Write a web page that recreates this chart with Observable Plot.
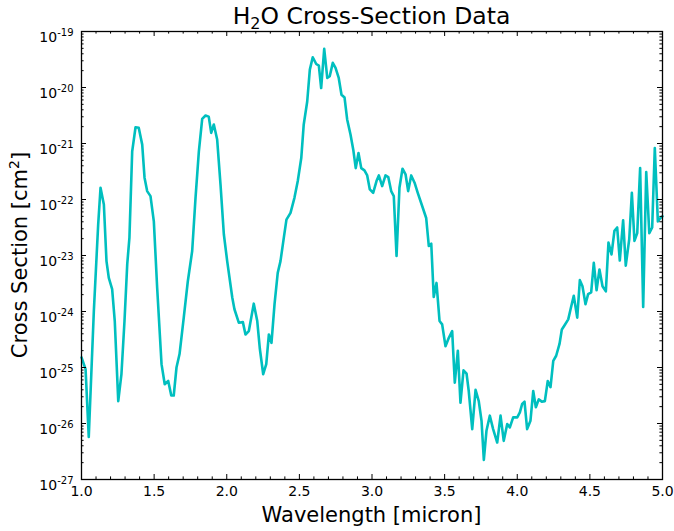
<!DOCTYPE html>
<html><head><meta charset="utf-8">
<script src="https://cdn.jsdelivr.net/npm/d3@7"></script>
<script src="https://cdn.jsdelivr.net/npm/@observablehq/plot@0.6"></script>
<style>body{margin:0;background:#fff} svg{display:block}</style>
</head><body><div id="chart"></div>
<script>
// Wavelength [micron]
const wavelength = [
  1.000, 1.028, 1.050, 1.085, 1.115, 1.131, 1.154, 1.172, 1.188, 1.211,
  1.229, 1.253, 1.275, 1.296, 1.315, 1.330, 1.349, 1.372, 1.394, 1.418,
  1.434, 1.452, 1.475, 1.498, 1.521, 1.551, 1.573, 1.597, 1.618, 1.635,
  1.654, 1.675, 1.704, 1.732, 1.762, 1.785, 1.808, 1.831, 1.854, 1.876,
  1.893, 1.911, 1.934, 1.957, 1.980, 2.003, 2.038, 2.053, 2.083, 2.111,
  2.129, 2.152, 2.186, 2.210, 2.228, 2.251, 2.272, 2.290, 2.308, 2.329,
  2.351, 2.370, 2.393, 2.411, 2.439, 2.466, 2.489, 2.513, 2.530, 2.554,
  2.572, 2.592, 2.616, 2.634, 2.650, 2.671, 2.692, 2.709, 2.730, 2.749,
  2.771, 2.790, 2.811, 2.829, 2.852, 2.871, 2.888, 2.907, 2.926, 2.948,
  2.967, 2.985, 3.008, 3.031, 3.047, 3.070, 3.093, 3.112, 3.132, 3.150,
  3.169, 3.189, 3.210, 3.231, 3.249, 3.270, 3.293, 3.315, 3.346, 3.373,
  3.391, 3.408, 3.425, 3.444, 3.465, 3.483, 3.506, 3.529, 3.552, 3.570,
  3.591, 3.609, 3.630, 3.651, 3.666, 3.690, 3.713, 3.735, 3.754, 3.770,
  3.788, 3.811, 3.834, 3.862, 3.885, 3.907, 3.931, 3.949, 3.972, 4.000,
  4.018, 4.034, 4.050, 4.068, 4.091, 4.110, 4.128, 4.148, 4.169, 4.190,
  4.210, 4.229, 4.248, 4.268, 4.291, 4.307, 4.327, 4.351, 4.367, 4.389,
  4.413, 4.431, 4.449, 4.470, 4.488, 4.509, 4.527, 4.546, 4.566, 4.587,
  4.610, 4.628, 4.649, 4.669, 4.688, 4.706, 4.729, 4.747, 4.771, 4.789,
  4.807, 4.826, 4.846, 4.867, 4.888, 4.909, 4.929, 4.947, 4.968, 4.986,
  5.000
];
// log10 of cross section [cm^2]
const logCrossSection = [
  -24.82, -25.03, -26.24, -23.99, -22.44, -21.79, -22.09, -23.10, -23.40, -23.60,
  -24.17, -25.60, -25.12, -24.17, -23.15, -22.68, -21.14, -20.71, -20.72, -21.02,
  -21.61, -21.85, -21.94, -22.39, -23.58, -24.94, -25.30, -25.24, -25.50, -25.50,
  -25.00, -24.76, -24.11, -23.46, -22.92, -21.97, -21.14, -20.56, -20.50, -20.52,
  -20.81, -20.66, -20.93, -21.73, -22.62, -23.10, -23.75, -23.96, -24.20, -24.19,
  -24.41, -24.35, -23.86, -24.17, -24.67, -25.12, -24.94, -24.41, -24.56, -23.87,
  -23.31, -23.10, -22.68, -22.36, -22.24, -21.97, -21.67, -21.26, -20.66, -20.25,
  -19.68, -19.46, -19.58, -19.61, -20.01, -19.31, -19.83, -19.80, -19.56, -19.65,
  -19.83, -20.13, -20.18, -20.57, -20.84, -21.11, -21.44, -21.17, -21.44, -21.48,
  -21.57, -21.82, -21.88, -21.67, -21.57, -21.76, -21.57, -21.60, -21.85, -21.94,
  -23.01, -21.79, -21.45, -21.55, -21.85, -21.57, -21.70, -21.88, -22.12, -22.33,
  -22.83, -22.79, -23.74, -23.49, -24.17, -24.23, -24.62, -24.47, -24.35, -25.27,
  -24.70, -25.63, -25.05, -25.11, -25.42, -26.10, -25.40, -25.60, -25.95, -26.65,
  -26.13, -25.86, -26.10, -26.34, -25.86, -26.31, -26.01, -26.07, -25.89, -25.89,
  -25.80, -25.65, -25.61, -26.10, -25.95, -25.42, -25.71, -25.57, -25.61, -25.60,
  -25.24, -25.35, -24.88, -24.79, -24.58, -24.32, -24.24, -24.14, -23.96, -23.72,
  -24.11, -23.44, -23.55, -23.87, -23.69, -23.66, -23.13, -23.62, -23.25, -23.55,
  -23.64, -22.77, -22.98, -22.56, -22.50, -23.09, -22.37, -23.18, -22.71, -21.88,
  -22.74, -22.60, -21.44, -23.92, -21.51, -22.60, -22.50, -21.08, -22.39, -22.33,
  -22.30
];
const xTicks = [1.0, 1.5, 2.0, 2.5, 3.0, 3.5, 4.0, 4.5, 5.0];
const xMinorTicks = [1.1,1.2,1.3,1.4,1.6,1.7,1.8,1.9,2.1,2.2,2.3,2.4,2.6,2.7,2.8,2.9,3.1,3.2,3.3,3.4,3.6,3.7,3.8,3.9,4.1,4.2,4.3,4.4,4.6,4.7,4.8,4.9];
const yExponents = [-27, -26, -25, -24, -23, -22, -21, -20, -19];
const yMinorMultipliers = [2, 3, 4, 5, 6, 7, 8, 9];
const titleMain = "H";
const titleSub = "2";
const titleRest = "O Cross-Section Data";
const xLabel = "Wavelength [micron]";
const yLabelMain = "Cross Section [cm";
const yLabelSup = "2";
const yLabelEnd = "]";

const data = wavelength.map((w, i) => ({w, s: Math.pow(10, logCrossSection[i])}));
const yMajor = yExponents.map(e => Number(`1e${e}`));
const yMinor = [];
for (const e of yExponents.slice(0, -1)) for (const m of yMinorMultipliers) yMinor.push(Number(`${m}e${e}`));

const W = 674, H = 531, mL = 81, mR = 12, mT = 31, mB = 52;
const pw = W - mL - mR, ph = H - mT - mB;
const majorLen = 5, minorLen = 2.6;
const tickStyle = {stroke: "black", strokeWidth: 1};

const chart = Plot.plot({
  width: W, height: H,
  marginLeft: mL, marginRight: mR, marginTop: mT, marginBottom: mB,
  style: {fontFamily: "DejaVu Sans", fontSize: "14px", background: "white", color: "black", overflow: "visible"},
  x: {domain: [1, 5], ticks: xTicks, tickFormat: d => d.toFixed(1), tickSize: 0, tickPadding: 7, label: null},
  y: {type: "log", domain: [1e-27, 1e-19], ticks: yMajor, tickFormat: d => String(Math.round(Math.log10(d))), tickSize: 0, tickPadding: 8, label: null},
  marks: [
    Plot.line(data, {x: "w", y: "s", stroke: "#00BFBF", strokeWidth: 2.6, strokeLinejoin: "round"}),
    Plot.tickX(xTicks, {x: d => d, insetTop: ph - majorLen, ...tickStyle}),
    Plot.tickX(xTicks, {x: d => d, insetBottom: ph - majorLen, ...tickStyle}),
    Plot.tickX(xMinorTicks, {x: d => d, insetTop: ph - minorLen, ...tickStyle}),
    Plot.tickX(xMinorTicks, {x: d => d, insetBottom: ph - minorLen, ...tickStyle}),
    Plot.tickY(yMajor, {y: d => d, insetRight: pw - majorLen, ...tickStyle}),
    Plot.tickY(yMajor, {y: d => d, insetLeft: pw - majorLen, ...tickStyle}),
    Plot.tickY(yMinor, {y: d => d, insetRight: pw - minorLen, ...tickStyle}),
    Plot.tickY(yMinor, {y: d => d, insetLeft: pw - minorLen, ...tickStyle}),
    Plot.frame({stroke: "black", strokeWidth: 1.3})
  ]
});

const svg = d3.select(chart);
svg.selectAll('g[aria-label$="tick label"]').attr("font-size", "14px").attr("font-family", "DejaVu Sans");
// y tick labels as powers of ten with superscript exponents
svg.selectAll('g[aria-label="y-axis tick label"] text').each(function () {
  const t = d3.select(this);
  const e = t.text();
  t.text("10").attr("dy", "0.45em");
  t.append("tspan").attr("dy", "-0.6em").attr("font-size", "10px").text(e);
});
// title
const tt = svg.append("text").attr("x", mL + pw / 2).attr("y", 24)
  .attr("text-anchor", "middle").attr("font-size", "23.5px").attr("fill", "black");
tt.append("tspan").text(titleMain);
tt.append("tspan").attr("dy", 5).attr("font-size", "16px").text(titleSub);
tt.append("tspan").attr("dy", -5).text(titleRest);
// x label
svg.append("text").attr("x", mL + pw / 2).attr("y", 522)
  .attr("text-anchor", "middle").attr("font-size", "21px").attr("fill", "black").text(xLabel);
// y label
const yl = svg.append("text").attr("transform", `translate(27,${mT + ph / 2}) rotate(-90)`)
  .attr("text-anchor", "middle").attr("font-size", "21px").attr("fill", "black");
yl.append("tspan").text(yLabelMain);
yl.append("tspan").attr("dy", -8).attr("font-size", "14px").text(yLabelSup);
yl.append("tspan").attr("dy", 8).text(yLabelEnd);

document.getElementById("chart").appendChild(chart);
</script>
</body></html>
